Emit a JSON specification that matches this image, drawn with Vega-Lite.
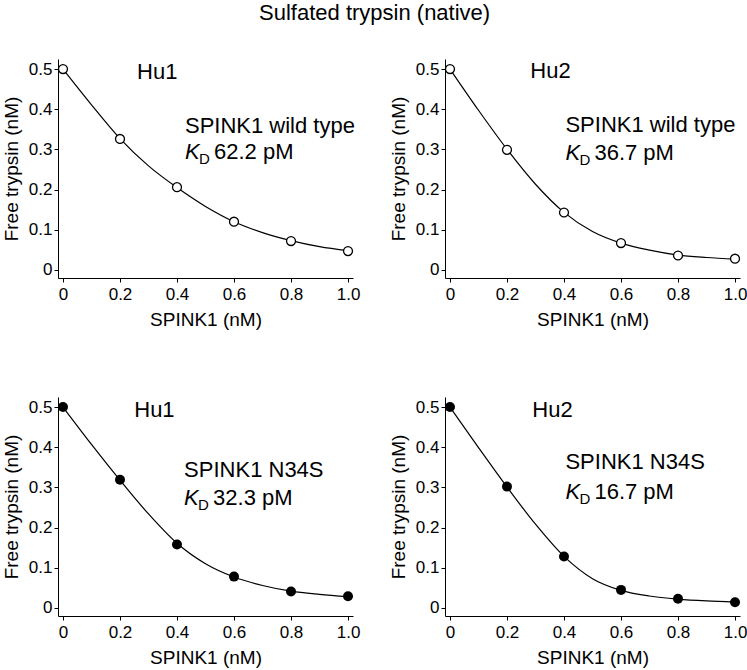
{
  "$schema": "https://vega.github.io/schema/vega-lite/v6.json",
  "background": "white",
  "padding": {"left": 2, "top": 2, "right": 5, "bottom": 5},
  "title": {"text": "Sulfated trypsin (native)", "fontSize": 22, "font": "Liberation Sans", "fontWeight": "normal", "color": "black", "anchor": "middle", "offset": 34},
  "config": {
    "view": {"stroke": null},
    "font": "Liberation Sans",
    "text": {"font": "Liberation Sans", "fontSize": 22, "align": "left", "baseline": "alphabetic", "color": "black"},
    "axis": {"domainColor": "black", "tickColor": "black", "labelColor": "black", "titleColor": "black", "labelFont": "Liberation Sans", "titleFont": "Liberation Sans", "labelFontSize": 17, "titleFontSize": 19, "titleFontWeight": "normal", "grid": false, "labelOverlap": false, "labelFlush": false, "labelBound": false, "domainWidth": 1, "tickWidth": 1}
  },
  "datasets": {
    "pts": [
      {"panel": "p1", "x": 0, "y": 0.5}, {"panel": "p1", "x": 0.2, "y": 0.326}, {"panel": "p1", "x": 0.4, "y": 0.206}, {"panel": "p1", "x": 0.6, "y": 0.12}, {"panel": "p1", "x": 0.8, "y": 0.072}, {"panel": "p1", "x": 1.0, "y": 0.047},
      {"panel": "p2", "x": 0, "y": 0.5}, {"panel": "p2", "x": 0.2, "y": 0.299}, {"panel": "p2", "x": 0.4, "y": 0.143, "lo": 0.134, "hi": 0.152}, {"panel": "p2", "x": 0.6, "y": 0.067}, {"panel": "p2", "x": 0.8, "y": 0.036}, {"panel": "p2", "x": 1.0, "y": 0.028},
      {"panel": "p3", "x": 0, "y": 0.5}, {"panel": "p3", "x": 0.2, "y": 0.319}, {"panel": "p3", "x": 0.4, "y": 0.158}, {"panel": "p3", "x": 0.6, "y": 0.078}, {"panel": "p3", "x": 0.8, "y": 0.041}, {"panel": "p3", "x": 1.0, "y": 0.029},
      {"panel": "p4", "x": 0, "y": 0.5}, {"panel": "p4", "x": 0.2, "y": 0.302}, {"panel": "p4", "x": 0.4, "y": 0.128}, {"panel": "p4", "x": 0.6, "y": 0.045}, {"panel": "p4", "x": 0.8, "y": 0.023}, {"panel": "p4", "x": 1.0, "y": 0.014}
    ],
    "fit": [
      {"panel": "p1", "x": 0, "y": 0.5}, {"panel": "p1", "x": 0.1, "y": 0.411}, {"panel": "p1", "x": 0.2, "y": 0.327}, {"panel": "p1", "x": 0.3, "y": 0.259}, {"panel": "p1", "x": 0.4, "y": 0.205}, {"panel": "p1", "x": 0.5, "y": 0.158}, {"panel": "p1", "x": 0.6, "y": 0.12}, {"panel": "p1", "x": 0.7, "y": 0.093}, {"panel": "p1", "x": 0.8, "y": 0.073}, {"panel": "p1", "x": 0.9, "y": 0.058}, {"panel": "p1", "x": 1.0, "y": 0.048},
      {"panel": "p2", "x": 0, "y": 0.5}, {"panel": "p2", "x": 0.1, "y": 0.3975}, {"panel": "p2", "x": 0.2, "y": 0.3004}, {"panel": "p2", "x": 0.3, "y": 0.2133}, {"panel": "p2", "x": 0.4, "y": 0.1433}, {"panel": "p2", "x": 0.5, "y": 0.0955}, {"panel": "p2", "x": 0.6, "y": 0.0667}, {"panel": "p2", "x": 0.7, "y": 0.0492}, {"panel": "p2", "x": 0.8, "y": 0.037}, {"panel": "p2", "x": 0.9, "y": 0.031}, {"panel": "p2", "x": 1.0, "y": 0.027},
      {"panel": "p3", "x": 0, "y": 0.5}, {"panel": "p3", "x": 0.1, "y": 0.407}, {"panel": "p3", "x": 0.2, "y": 0.318}, {"panel": "p3", "x": 0.3, "y": 0.234}, {"panel": "p3", "x": 0.4, "y": 0.161}, {"panel": "p3", "x": 0.5, "y": 0.11}, {"panel": "p3", "x": 0.6, "y": 0.077}, {"panel": "p3", "x": 0.7, "y": 0.056}, {"panel": "p3", "x": 0.8, "y": 0.042}, {"panel": "p3", "x": 0.9, "y": 0.034}, {"panel": "p3", "x": 1.0, "y": 0.028},
      {"panel": "p4", "x": 0, "y": 0.5}, {"panel": "p4", "x": 0.1, "y": 0.3992}, {"panel": "p4", "x": 0.2, "y": 0.301}, {"panel": "p4", "x": 0.3, "y": 0.2084}, {"panel": "p4", "x": 0.4, "y": 0.1284}, {"panel": "p4", "x": 0.5, "y": 0.0729}, {"panel": "p4", "x": 0.6, "y": 0.0438}, {"panel": "p4", "x": 0.7, "y": 0.0297}, {"panel": "p4", "x": 0.8, "y": 0.022}, {"panel": "p4", "x": 0.9, "y": 0.0174}, {"panel": "p4", "x": 1.0, "y": 0.0144}
    ]
  },
  "columns": 2,
  "spacing": {"row": 119, "column": 92},
  "bounds": "flush",
  "concat": [
    {
      "width": 295, "height": 219,
      "layer": [
        {"data": {"name": "fit"}, "transform": [{"filter": "datum.panel == 'p1'"}], "mark": {"type": "line", "color": "black", "strokeWidth": 1.2, "interpolate": "monotone"},
         "encoding": {
          "x": {"field": "x", "type": "quantitative", "scale": {"domain": [-0.0175, 1.0175], "nice": false, "zero": false}, "axis": {"title": "SPINK1 (nM)", "values": [0,0.1,0.2,0.3,0.4,0.5,0.6,0.7,0.8,0.9,1.0], "labelExpr": "round(datum.value*10) % 2 == 1 ? '' : (datum.value == 0 ? '0' : format(datum.value, '.1f'))", "tickSize": {"condition": {"test": "round(datum.value*10) % 2 == 1", "value": -3}, "value": 4}, "labelPadding": 4, "titlePadding": 8}},
          "y": {"field": "y", "type": "quantitative", "scale": {"domain": [-0.02, 0.525], "nice": false, "zero": false}, "axis": {"title": "Free trypsin (nM)", "values": [0,0.05,0.1,0.15,0.2,0.25,0.3,0.35,0.4,0.45,0.5], "labelExpr": "round(datum.value*20) % 2 == 1 ? '' : (datum.value == 0 ? '0' : format(datum.value, '.1f'))", "tickSize": {"condition": {"test": "round(datum.value*20) % 2 == 1", "value": 2}, "value": 4}, "labelPadding": 2, "titlePadding": 7}}
         }},
        {"data": {"name": "pts"}, "transform": [{"filter": "datum.panel == 'p1'"}], "mark": {"type": "point", "shape": "circle", "size": 80, "fill": "white", "stroke": "black", "strokeWidth": 1.3, "opacity": 1, "filled": false}, "encoding": {"x": {"field": "x", "type": "quantitative"}, "y": {"field": "y", "type": "quantitative"}}},
        {"data": {"values": [{"t": "Hu1"}]}, "mark": {"type": "text"}, "encoding": {"text": {"field": "t"}, "x": {"datum": 0.26}, "y": {"datum": 0.475}}},
        {"data": {"values": [{"t": "SPINK1 wild type"}]}, "mark": {"type": "text"}, "encoding": {"text": {"field": "t"}, "x": {"datum": 0.428}, "y": {"datum": 0.341}}},
        {"data": {"values": [{"t": "K"}]}, "mark": {"type": "text", "fontStyle": "italic"}, "encoding": {"text": {"field": "t"}, "x": {"datum": 0.428}, "y": {"datum": 0.276}}},
        {"data": {"values": [{"t": "D"}]}, "mark": {"type": "text", "fontSize": 15, "dx": 14, "dy": 5}, "encoding": {"text": {"field": "t"}, "x": {"datum": 0.428}, "y": {"datum": 0.276}}},
        {"data": {"values": [{"t": "62.2 pM"}]}, "mark": {"type": "text", "dx": 29}, "encoding": {"text": {"field": "t"}, "x": {"datum": 0.428}, "y": {"datum": 0.276}}}
      ]
    },
    {
      "width": 295, "height": 219,
      "layer": [
        {"data": {"name": "fit"}, "transform": [{"filter": "datum.panel == 'p2'"}], "mark": {"type": "line", "color": "black", "strokeWidth": 1.2, "interpolate": "monotone"},
         "encoding": {
          "x": {"field": "x", "type": "quantitative", "scale": {"domain": [-0.0175, 1.0175], "nice": false, "zero": false}, "axis": {"title": "SPINK1 (nM)", "values": [0,0.1,0.2,0.3,0.4,0.5,0.6,0.7,0.8,0.9,1.0], "labelExpr": "round(datum.value*10) % 2 == 1 ? '' : (datum.value == 0 ? '0' : format(datum.value, '.1f'))", "tickSize": {"condition": {"test": "round(datum.value*10) % 2 == 1", "value": -3}, "value": 4}, "labelPadding": 4, "titlePadding": 8}},
          "y": {"field": "y", "type": "quantitative", "scale": {"domain": [-0.02, 0.525], "nice": false, "zero": false}, "axis": {"title": "Free trypsin (nM)", "values": [0,0.05,0.1,0.15,0.2,0.25,0.3,0.35,0.4,0.45,0.5], "labelExpr": "round(datum.value*20) % 2 == 1 ? '' : (datum.value == 0 ? '0' : format(datum.value, '.1f'))", "tickSize": {"condition": {"test": "round(datum.value*20) % 2 == 1", "value": 2}, "value": 4}, "labelPadding": 2, "titlePadding": 7}}
         }},
        {"data": {"name": "pts"}, "transform": [{"filter": "datum.panel == 'p2' && isValid(datum.lo)"}], "mark": {"type": "rule", "color": "black", "strokeWidth": 1.2}, "encoding": {"x": {"field": "x", "type": "quantitative"}, "y": {"field": "lo", "type": "quantitative"}, "y2": {"field": "hi"}}},
        {"data": {"name": "pts"}, "transform": [{"filter": "datum.panel == 'p2'"}], "mark": {"type": "point", "shape": "circle", "size": 80, "fill": "white", "stroke": "black", "strokeWidth": 1.3, "opacity": 1, "filled": false}, "encoding": {"x": {"field": "x", "type": "quantitative"}, "y": {"field": "y", "type": "quantitative"}}},
        {"data": {"values": [{"t": "Hu2"}]}, "mark": {"type": "text"}, "encoding": {"text": {"field": "t"}, "x": {"datum": 0.282}, "y": {"datum": 0.478}}},
        {"data": {"values": [{"t": "SPINK1 wild type"}]}, "mark": {"type": "text"}, "encoding": {"text": {"field": "t"}, "x": {"datum": 0.405}, "y": {"datum": 0.343}}},
        {"data": {"values": [{"t": "K"}]}, "mark": {"type": "text", "fontStyle": "italic"}, "encoding": {"text": {"field": "t"}, "x": {"datum": 0.405}, "y": {"datum": 0.274}}},
        {"data": {"values": [{"t": "D"}]}, "mark": {"type": "text", "fontSize": 15, "dx": 14, "dy": 5}, "encoding": {"text": {"field": "t"}, "x": {"datum": 0.405}, "y": {"datum": 0.274}}},
        {"data": {"values": [{"t": "36.7 pM"}]}, "mark": {"type": "text", "dx": 29}, "encoding": {"text": {"field": "t"}, "x": {"datum": 0.405}, "y": {"datum": 0.274}}}
      ]
    },
    {
      "width": 295, "height": 219,
      "layer": [
        {"data": {"name": "fit"}, "transform": [{"filter": "datum.panel == 'p3'"}], "mark": {"type": "line", "color": "black", "strokeWidth": 1.2, "interpolate": "monotone"},
         "encoding": {
          "x": {"field": "x", "type": "quantitative", "scale": {"domain": [-0.0175, 1.0175], "nice": false, "zero": false}, "axis": {"title": "SPINK1 (nM)", "values": [0,0.1,0.2,0.3,0.4,0.5,0.6,0.7,0.8,0.9,1.0], "labelExpr": "round(datum.value*10) % 2 == 1 ? '' : (datum.value == 0 ? '0' : format(datum.value, '.1f'))", "tickSize": {"condition": {"test": "round(datum.value*10) % 2 == 1", "value": -3}, "value": 4}, "labelPadding": 4, "titlePadding": 8}},
          "y": {"field": "y", "type": "quantitative", "scale": {"domain": [-0.02, 0.525], "nice": false, "zero": false}, "axis": {"title": "Free trypsin (nM)", "values": [0,0.05,0.1,0.15,0.2,0.25,0.3,0.35,0.4,0.45,0.5], "labelExpr": "round(datum.value*20) % 2 == 1 ? '' : (datum.value == 0 ? '0' : format(datum.value, '.1f'))", "tickSize": {"condition": {"test": "round(datum.value*20) % 2 == 1", "value": 2}, "value": 4}, "labelPadding": 2, "titlePadding": 7}}
         }},
        {"data": {"name": "pts"}, "transform": [{"filter": "datum.panel == 'p3'"}], "mark": {"type": "circle", "size": 100, "color": "black", "opacity": 1}, "encoding": {"x": {"field": "x", "type": "quantitative"}, "y": {"field": "y", "type": "quantitative"}}},
        {"data": {"values": [{"t": "Hu1"}]}, "mark": {"type": "text"}, "encoding": {"text": {"field": "t"}, "x": {"datum": 0.25}, "y": {"datum": 0.475}}},
        {"data": {"values": [{"t": "SPINK1 N34S"}]}, "mark": {"type": "text"}, "encoding": {"text": {"field": "t"}, "x": {"datum": 0.425}, "y": {"datum": 0.327}}},
        {"data": {"values": [{"t": "K"}]}, "mark": {"type": "text", "fontStyle": "italic"}, "encoding": {"text": {"field": "t"}, "x": {"datum": 0.425}, "y": {"datum": 0.255}}},
        {"data": {"values": [{"t": "D"}]}, "mark": {"type": "text", "fontSize": 15, "dx": 14, "dy": 5}, "encoding": {"text": {"field": "t"}, "x": {"datum": 0.425}, "y": {"datum": 0.255}}},
        {"data": {"values": [{"t": "32.3 pM"}]}, "mark": {"type": "text", "dx": 29}, "encoding": {"text": {"field": "t"}, "x": {"datum": 0.425}, "y": {"datum": 0.255}}}
      ]
    },
    {
      "width": 295, "height": 219,
      "layer": [
        {"data": {"name": "fit"}, "transform": [{"filter": "datum.panel == 'p4'"}], "mark": {"type": "line", "color": "black", "strokeWidth": 1.2, "interpolate": "monotone"},
         "encoding": {
          "x": {"field": "x", "type": "quantitative", "scale": {"domain": [-0.0175, 1.0175], "nice": false, "zero": false}, "axis": {"title": "SPINK1 (nM)", "values": [0,0.1,0.2,0.3,0.4,0.5,0.6,0.7,0.8,0.9,1.0], "labelExpr": "round(datum.value*10) % 2 == 1 ? '' : (datum.value == 0 ? '0' : format(datum.value, '.1f'))", "tickSize": {"condition": {"test": "round(datum.value*10) % 2 == 1", "value": -3}, "value": 4}, "labelPadding": 4, "titlePadding": 8}},
          "y": {"field": "y", "type": "quantitative", "scale": {"domain": [-0.02, 0.525], "nice": false, "zero": false}, "axis": {"title": "Free trypsin (nM)", "values": [0,0.05,0.1,0.15,0.2,0.25,0.3,0.35,0.4,0.45,0.5], "labelExpr": "round(datum.value*20) % 2 == 1 ? '' : (datum.value == 0 ? '0' : format(datum.value, '.1f'))", "tickSize": {"condition": {"test": "round(datum.value*20) % 2 == 1", "value": 2}, "value": 4}, "labelPadding": 2, "titlePadding": 7}}
         }},
        {"data": {"name": "pts"}, "transform": [{"filter": "datum.panel == 'p4'"}], "mark": {"type": "circle", "size": 100, "color": "black", "opacity": 1}, "encoding": {"x": {"field": "x", "type": "quantitative"}, "y": {"field": "y", "type": "quantitative"}}},
        {"data": {"values": [{"t": "Hu2"}]}, "mark": {"type": "text"}, "encoding": {"text": {"field": "t"}, "x": {"datum": 0.289}, "y": {"datum": 0.475}}},
        {"data": {"values": [{"t": "SPINK1 N34S"}]}, "mark": {"type": "text"}, "encoding": {"text": {"field": "t"}, "x": {"datum": 0.405}, "y": {"datum": 0.347}}},
        {"data": {"values": [{"t": "K"}]}, "mark": {"type": "text", "fontStyle": "italic"}, "encoding": {"text": {"field": "t"}, "x": {"datum": 0.405}, "y": {"datum": 0.27}}},
        {"data": {"values": [{"t": "D"}]}, "mark": {"type": "text", "fontSize": 15, "dx": 14, "dy": 5}, "encoding": {"text": {"field": "t"}, "x": {"datum": 0.405}, "y": {"datum": 0.27}}},
        {"data": {"values": [{"t": "16.7 pM"}]}, "mark": {"type": "text", "dx": 29}, "encoding": {"text": {"field": "t"}, "x": {"datum": 0.405}, "y": {"datum": 0.27}}}
      ]
    }
  ]
}
